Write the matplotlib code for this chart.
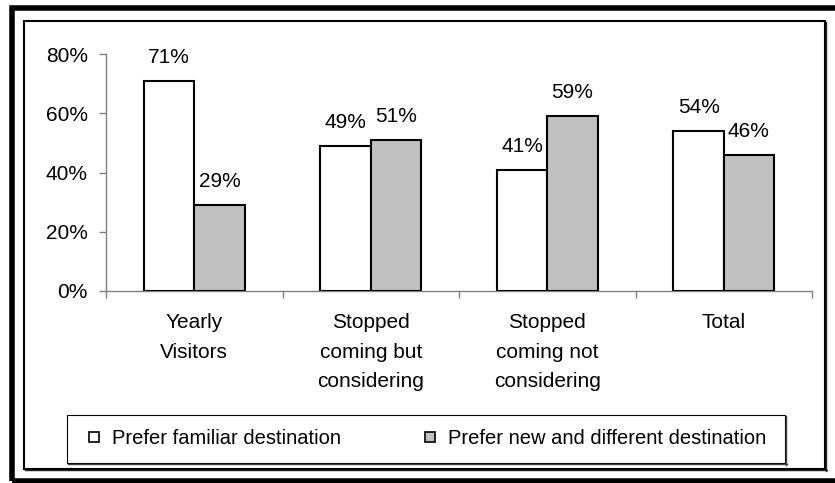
import matplotlib
matplotlib.use("Agg")
import matplotlib.pyplot as plt
from matplotlib.patches import Rectangle
from matplotlib.lines import Line2D
from matplotlib.ticker import FuncFormatter
import numpy as np

# Chart data
categories = ["Yearly\nVisitors", "Stopped\ncoming but\nconsidering",
              "Stopped\ncoming not\nconsidering", "Total"]
familiar = [71, 49, 41, 54]
new_different = [29, 51, 59, 46]
series_names = ["Prefer familiar destination",
                "Prefer new and different destination"]
y_ticks = [0, 20, 40, 60, 80]

W, H = 835, 483
FS = 15
plt.rcParams["font.family"] = ["Liberation Sans", "DejaVu Sans"]
plt.rcParams["font.size"] = FS

fig = plt.figure(figsize=(W / 100, H / 100), dpi=100)
fig.patch.set_facecolor("white")


def fx(px):
    return px / W


def fy(py):
    return 1 - py / H


AXIS_GREY = "#808080"

ax = fig.add_axes([fx(106), fy(291), fx(812) - fx(106), fy(54) - fy(291)])
x = np.arange(len(categories))
bw = 0.285
b1 = ax.bar(x - bw / 2, familiar, bw, color="white", edgecolor="black",
            linewidth=1.5, zorder=3)
b2 = ax.bar(x + bw / 2, new_different, bw, color="#C0C0C0", edgecolor="black",
            linewidth=1.5, zorder=3)
ax.bar_label(b1, labels=[f"{v}%" for v in familiar], padding=10, fontsize=FS)
ax.bar_label(b2, labels=[f"{v}%" for v in new_different], padding=10, fontsize=FS)

ax.set_xlim(-0.5, len(categories) - 0.5)
ax.set_ylim(0, 80)
ax.set_yticks(y_ticks)
ax.yaxis.set_major_formatter(FuncFormatter(lambda v, p: f"{v:.0f}%"))
ax.set_xticks(x)
ax.set_xticklabels(categories, linespacing=1.7)
ax.set_xticks(np.arange(len(categories) + 1) - 0.5, minor=True)
ax.tick_params(axis="x", which="major", length=0, pad=16)
ax.tick_params(axis="x", which="minor", length=5, color=AXIS_GREY, width=1)
ax.tick_params(axis="y", length=5, color=AXIS_GREY, width=1, pad=8)
for s in ["top", "right"]:
    ax.spines[s].set_visible(False)
for s in ["left", "bottom"]:
    ax.spines[s].set_color(AXIS_GREY)
    ax.spines[s].set_linewidth(1)

# Outer heavy frame
fig.add_artist(Rectangle((fx(12), fy(480.5)), fx(845) - fx(12),
                         fy(7.5) - fy(480.5), fill=False, ec="black",
                         lw=4, transform=fig.transFigure))
# Inner chart frame, a little heavier on the right and bottom
fig.add_artist(Rectangle((fx(24), fy(469)), fx(825) - fx(24), fy(21) - fy(469),
                         fill=False, ec="black", lw=1.5,
                         transform=fig.transFigure))
fig.add_artist(Line2D([fx(826), fx(826)], [fy(22), fy(470.5)], color="#222222",
                      lw=1, transform=fig.transFigure))
fig.add_artist(Line2D([fx(25), fx(826.5)], [fy(470), fy(470)], color="#222222",
                      lw=1, transform=fig.transFigure))

# Legend box
fig.add_artist(Rectangle((fx(67), fy(463)), fx(785) - fx(67), fy(415) - fy(463),
                         fill=False, ec="black", lw=0.8,
                         transform=fig.transFigure))
fig.add_artist(Line2D([fx(786), fx(786)], [fy(416), fy(464.5)], color="#404040",
                      lw=1, transform=fig.transFigure))
fig.add_artist(Line2D([fx(68), fx(786.5)], [fy(464), fy(464)], color="#404040",
                      lw=1, transform=fig.transFigure))

LFS = 14.5
handles = [
    Line2D([], [], linestyle="none", marker="s", markersize=7,
           markerfacecolor="white", markeredgecolor="black", markeredgewidth=1.2),
    Line2D([], [], linestyle="none", marker="s", markersize=7,
           markerfacecolor="#C0C0C0", markeredgecolor="black", markeredgewidth=1.2),
]
fig.legend(handles, series_names, loc="center left",
           bbox_to_anchor=(fx(78), fy(439)), ncol=2, frameon=False,
           borderpad=0, handlelength=0.6, handletextpad=0.6,
           columnspacing=4.1, fontsize=LFS)

fig.savefig("out.png", dpi=100)
